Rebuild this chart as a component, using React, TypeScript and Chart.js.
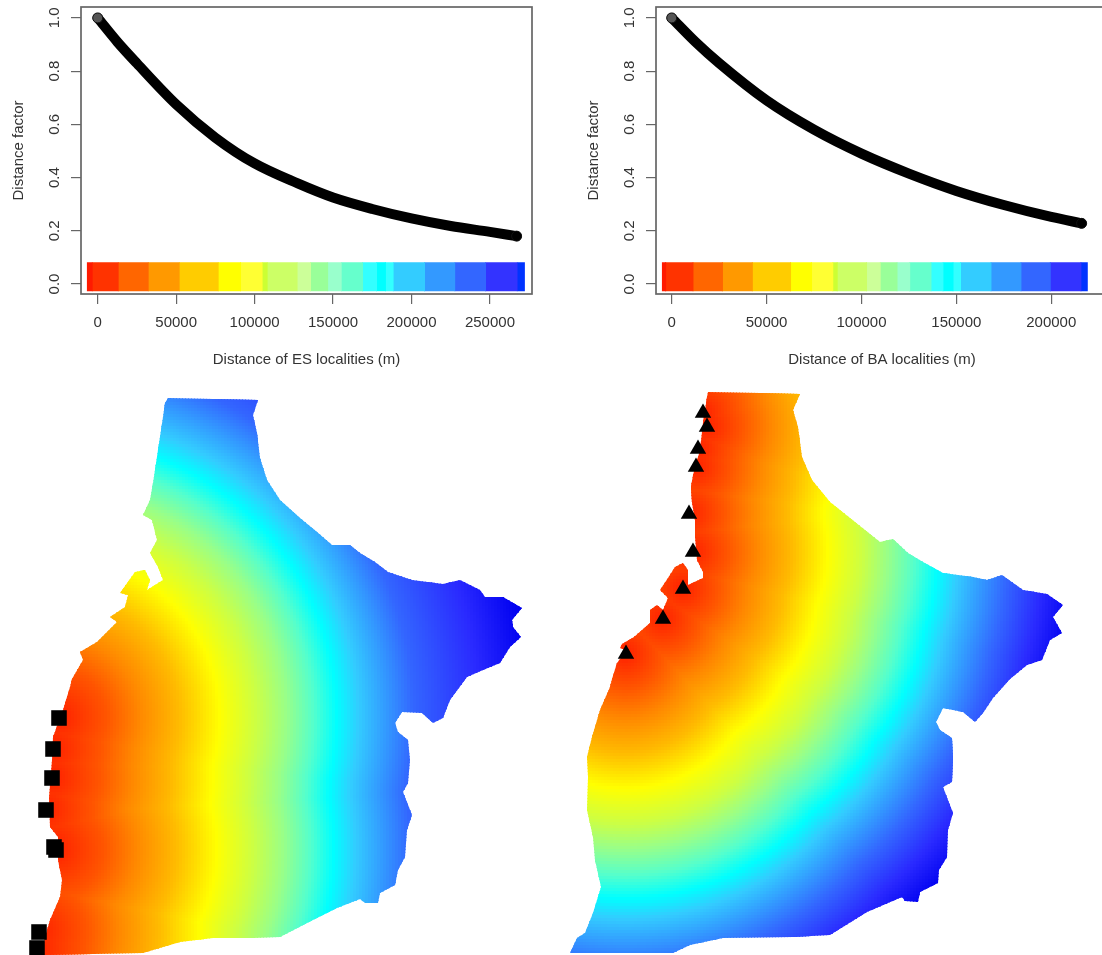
import React, { useEffect, useRef } from "react";
import { Chart, registerables } from "chart.js";

Chart.register(...registerables);

// --- distance-decay curves (distance in m, factor)
const esDistance = [0, 12500, 25000, 50000, 75000, 100000, 127500, 150000, 175000, 200000, 225000, 250000, 267000];
const esFactor = [1.0, 0.91, 0.829, 0.675, 0.55, 0.453, 0.378, 0.325, 0.282, 0.2465, 0.218, 0.196, 0.18];
const baDistance = [0, 12500, 25000, 50000, 75000, 100000, 125000, 150000, 175000, 200000, 216000];
const baFactor = [1.0, 0.91, 0.83, 0.69, 0.58, 0.49, 0.415, 0.35, 0.297, 0.252, 0.228];

// --- tick labels
const esXTicks = [0, 50000, 100000, 150000, 200000, 250000];
const baXTicks = [0, 50000, 100000, 150000, 200000];
const yTicks = [0, 0.2, 0.4, 0.6, 0.8, 1.0];

// --- colour bars
const barColors = ["#FF1A00", "#FF3300", "#FF6600", "#FF9900", "#FFCC00", "#FFFF00", "#FFFF33", "#CCFF33", "#CCFF66", "#CCFF99", "#99FF99", "#99FFCC", "#66FFCC", "#33FFFF", "#00FFFF", "#33FFFF", "#33CCFF", "#3399FF", "#3366FF", "#3333FF", "#0033FF"];
const esBarBreaks = [-7010, -3820, 12750, 31870, 51630, 76490, 90700, 104500, 107700, 126800, 135300, 146300, 154900, 168500, 177400, 183000, 188000, 208000, 227300, 246900, 267000, 272300];
const baBarBreaks = [-5260, -3510, 10880, 26320, 42100, 62280, 73330, 84560, 86840, 102300, 109500, 118400, 125100, 136300, 142600, 147900, 151800, 167900, 183700, 199100, 215300, 219300];
const barTop = 0.082;
const barBottom = -0.027;
const barSeamOverlap = 700; // m; hides antialiasing hairlines between segments, not a read value

// --- map: coast outlines and localities, in map units (simplified; the reference edge is rougher)
const esCoast = [[168,398],[258,400],[253,415],[257,433],[260,458],[267,480],[280,500],[300,518],[317,532],[332,545],[350,545],[360,553],[375,562],[388,572],[412,580],[443,584],[460,580],[480,590],[485,597],[503,597],[522,608],[512,620],[513,627],[521,637],[510,647],[500,663],[483,670],[467,677],[450,700],[443,718],[433,723],[422,713],[402,712],[395,723],[398,732],[408,740],[410,760],[408,783],[403,792],[412,815],[407,830],[405,857],[398,870],[395,885],[380,893],[378,903],[365,903],[360,899],[337,908],[313,920],[280,937],[253,938],[213,938],[180,942],[143,953],[43,955],[45,937],[50,920],[60,897],[62,880],[58,860],[58,837],[50,827],[49,798],[52,760],[53,737],[63,710],[70,687],[72,679],[83,660],[80,652],[97,642],[117,622],[110,617],[125,607],[128,595],[120,593],[135,572],[145,570],[150,580],[147,590],[163,580],[158,567],[150,553],[157,540],[152,520],[143,515],[150,500],[153,483],[158,450],[163,417],[165,403]];
const baCoast = [[708,392],[760,393],[800,394],[793,410],[798,427],[802,457],[812,480],[830,502],[850,518],[880,542],[893,539],[908,553],[923,562],[943,573],[973,577],[987,580],[1002,575],[1023,590],[1047,594],[1063,605],[1053,617],[1062,633],[1050,640],[1042,660],[1027,665],[1010,679],[993,698],[983,713],[975,722],[963,712],[943,708],[936,722],[940,730],[952,738],[953,758],[952,782],[943,787],[953,813],[948,830],[947,857],[939,870],[938,883],[920,892],[918,902],[905,901],[902,897],[867,912],[830,935],[793,937],[723,938],[690,945],[673,953],[570,953],[577,938],[585,933],[593,913],[601,887],[595,860],[593,837],[587,810],[588,777],[587,757],[592,737],[600,710],[610,687],[612,679],[617,663],[627,650],[620,648],[622,644],[634,637],[650,623],[650,610],[657,605],[663,610],[668,598],[660,590],[668,578],[675,567],[683,563],[688,570],[688,585],[703,578],[703,572],[697,560],[695,537],[695,520],[692,503],[691,487],[693,475],[700,450],[703,423],[707,397]];
const esLocalities = [[59,718],[53,749],[52,778],[46,810],[54,847],[56,850],[39,932],[37,948]];
const baLocalities = [[703,413],[707,427],[698,449],[696,467],[689,514],[693,552],[683,589],[663,619],[626,654]];

// --- colour against distance from the nearest locality (map units); colour stops
const heatColors = ["#FF2000", "#FF5500", "#FF8800", "#FFBB00", "#FFFF00", "#CCFF44", "#99FF88", "#55FFCC", "#00FFFF", "#33CCFF", "#3399FF", "#3366FF", "#2A2AFF", "#0000F0"];
const esHeatDistance = [0, 48, 81, 121, 161, 198, 228, 255, 278, 300, 328, 355, 420, 473];
const baHeatDistance = [0, 35, 65, 100, 135, 170, 195, 222, 245, 265, 290, 315, 350, 385];

const FONT = "'Liberation Sans', Arial, sans-serif";
const INK = "#333";
const AXIS = "#666";

const boxPlugin = {
  id: "box",
  afterDraw(chart: any) {
    const { ctx, chartArea: a } = chart;
    ctx.save();
    ctx.strokeStyle = AXIS;
    ctx.lineWidth = 1.7;
    ctx.strokeRect(a.left, a.top, a.right - a.left, a.bottom - a.top);
    ctx.restore();
  },
};

function clipPlugin(coast: number[][], datasetIndex: number) {
  return {
    id: "coastClip",
    beforeDatasetDraw(chart: any, args: any) {
      if (args.index !== datasetIndex) return;
      const { ctx, scales } = chart;
      ctx.save();
      ctx.beginPath();
      coast.forEach(([x, y], i) => {
        const px = scales.x.getPixelForValue(x);
        const py = scales.y.getPixelForValue(y);
        if (i === 0) ctx.moveTo(px, py);
        else ctx.lineTo(px, py);
      });
      ctx.closePath();
      ctx.clip();
    },
    afterDatasetDraw(chart: any, args: any) {
      if (args.index === datasetIndex) chart.ctx.restore();
    },
  };
}

function hexRgb(h: string) {
  return [parseInt(h.slice(1, 3), 16), parseInt(h.slice(3, 5), 16), parseInt(h.slice(5, 7), 16)];
}

function heatColor(d: number, dists: number[]) {
  let i = 0;
  while (i < dists.length - 2 && d > dists[i + 1]) i++;
  const t = Math.max(0, Math.min(1, (d - dists[i]) / (dists[i + 1] - dists[i])));
  const a = hexRgb(heatColors[i]);
  const b = hexRgb(heatColors[i + 1]);
  return `rgb(${a.map((v, k) => Math.round(v + (b[k] - v) * t)).join(",")})`;
}

function zeroPadding(s: any) {
  s.paddingTop = 0;
  s.paddingBottom = 0;
  s.paddingLeft = 0;
  s.paddingRight = 0;
}

function curveConfig(opts: any) {
  const { distance, factor, breaks, title, xMin, xMax, paddingRight, xTicks } = opts;
  const points = distance.map((x: number, i: number) => ({ x, y: factor[i] }));
  const last = points.length - 1;
  const bars = barColors.map((c, i) => ({
    type: "line",
    data: [
      { x: breaks[i], y: barTop },
      { x: breaks[i + 1] + (i < barColors.length - 1 ? barSeamOverlap : 0), y: barTop },
    ],
    borderWidth: 0,
    pointRadius: 0,
    backgroundColor: c,
    fill: { value: barBottom },
  }));
  return {
    type: "line",
    data: {
      datasets: [
        {
          data: points,
          borderColor: "#000",
          borderWidth: 10,
          borderCapStyle: "round",
          cubicInterpolationMode: "monotone",
          fill: false,
          pointRadius: (c: any) => (c.dataIndex === 0 || c.dataIndex === last ? 5 : 0),
          pointBackgroundColor: (c: any) => (c.dataIndex === 0 ? "#555" : "#000"),
          pointBorderColor: "#111",
          pointBorderWidth: 1,
        },
        ...bars,
      ],
    },
    options: {
      responsive: false,
      animation: false,
      events: [],
      layout: { autoPadding: false, padding: { left: 0, top: 7, right: paddingRight, bottom: 0 } },
      plugins: { legend: { display: false }, tooltip: { enabled: false }, title: { display: false } },
      scales: {
        x: {
          type: "linear",
          min: xMin,
          max: xMax,
          afterBuildTicks: (s: any) => {
            s.ticks = xTicks.map((value: number) => ({ value }));
          },
          afterFit: (s: any) => {
            s.height = 91;
            zeroPadding(s);
          },
          border: { display: false },
          grid: { drawOnChartArea: false, drawTicks: true, tickLength: 10, color: AXIS, lineWidth: 1.2 },
          ticks: {
            autoSkip: false,
            maxRotation: 0,
            minRotation: 0,
            padding: 10,
            color: INK,
            font: { family: FONT, size: 15 },
            callback: (v: number) => String(v),
          },
          title: {
            display: true,
            text: title,
            color: INK,
            font: { family: FONT, size: 15 },
            padding: { top: 0, bottom: 16 },
          },
        },
        y: {
          min: -0.0375,
          max: 1.041,
          afterBuildTicks: (s: any) => {
            s.ticks = yTicks.map((value: number) => ({ value }));
          },
          afterFit: (s: any) => {
            s.width = 81;
            zeroPadding(s);
          },
          border: { display: false },
          grid: { drawOnChartArea: false, drawTicks: true, tickLength: 10, color: AXIS, lineWidth: 1.2 },
          ticks: {
            autoSkip: false,
            minRotation: 90,
            maxRotation: 90,
            crossAlign: "center",
            padding: 5.6,
            color: INK,
            font: { family: FONT, size: 15 },
            callback: (v: number) => Number(v).toFixed(1),
          },
          title: {
            display: true,
            text: "Distance factor",
            color: INK,
            font: { family: FONT, size: 15 },
            padding: { top: 9.5, bottom: 0 },
          },
        },
      },
    },
    plugins: [boxPlugin],
  };
}

// NOTE: the map cells are NOT values. Their positions are a
// generated 3-unit grid, and each colour is computed from the distance to the nearest traced
// locality through the estimated colour stops above. This reconstructs the reference's field
// (which appears to be such a distance field), so it is an approximation by formula.
function mapConfig(opts: any) {
  const { coast, localities, heatDistance, xMin, xMax, markerStyle, markerRadius } = opts;
  const cellSize = 3;
  const cells: { x: number; y: number }[] = [];
  const colors: string[] = [];
  const xs = coast.map((p: number[]) => p[0]);
  const ys = coast.map((p: number[]) => p[1]);
  for (let gx = Math.min(...xs); gx <= Math.max(...xs) + cellSize; gx += cellSize) {
    for (let gy = Math.min(...ys); gy <= Math.max(...ys) + cellSize; gy += cellSize) {
      let best = Infinity;
      for (const [lx, ly] of localities) best = Math.min(best, Math.hypot(gx - lx, gy - ly));
      cells.push({ x: gx, y: gy });
      colors.push(heatColor(best, heatDistance));
    }
  }
  return {
    type: "scatter",
    data: {
      datasets: [
        {
          data: localities.map(([x, y]: number[]) => ({ x, y })),
          pointStyle: markerStyle,
          pointRadius: markerRadius,
          pointBackgroundColor: "#000",
          pointBorderColor: "#000",
          pointBorderWidth: 0,
        },
        {
          data: cells,
          pointStyle: "rect",
          pointRadius: 2.8284,
          pointBackgroundColor: colors,
          pointBorderWidth: 0,
        },
      ],
    },
    options: {
      responsive: false,
      animation: false,
      events: [],
      layout: { autoPadding: false, padding: 0 },
      plugins: { legend: { display: false }, tooltip: { enabled: false } },
      scales: {
        x: { type: "linear", display: false, min: xMin, max: xMax },
        y: { type: "linear", display: false, min: 390, max: 955, reverse: true },
      },
    },
    plugins: [clipPlugin(coast, 1)],
  };
}

function Panel({ left, top, width, height, config }: any) {
  const ref = useRef<HTMLCanvasElement | null>(null);
  useEffect(() => {
    const chart = new Chart(ref.current as HTMLCanvasElement, config());
    return () => chart.destroy();
  }, []);
  return (
    <canvas
      ref={ref}
      width={width}
      height={height}
      style={{ position: "absolute", left, top, width, height, filter: "blur(0.4px)" }}
    />
  );
}

export default function App() {
  return (
    <div style={{ position: "absolute", left: 0, top: 0, width: 1102, height: 955, overflow: "hidden", background: "#fff" }}>
      <Panel
        left={0}
        top={0}
        width={560}
        height={385}
        config={() =>
          curveConfig({
            distance: esDistance,
            factor: esFactor,
            breaks: esBarBreaks,
            title: "Distance of ES localities (m)",
            xMin: -10640,
            xMax: 276800,
            paddingRight: 28,
            xTicks: esXTicks,
          })
        }
      />
      <Panel
        left={575}
        top={0}
        width={560}
        height={385}
        config={() =>
          curveConfig({
            distance: baDistance,
            factor: baFactor,
            breaks: baBarBreaks,
            title: "Distance of BA localities (m)",
            xMin: -8270,
            xMax: 229900,
            paddingRight: 27,
            xTicks: baXTicks,
          })
        }
      />
      <Panel
        left={0}
        top={390}
        width={551}
        height={565}
        config={() =>
          mapConfig({
            coast: esCoast,
            localities: esLocalities,
            heatDistance: esHeatDistance,
            xMin: 0,
            xMax: 551,
            markerStyle: "rect",
            markerRadius: 11,
          })
        }
      />
      <Panel
        left={551}
        top={390}
        width={551}
        height={565}
        config={() =>
          mapConfig({
            coast: baCoast,
            localities: baLocalities,
            heatDistance: baHeatDistance,
            xMin: 551,
            xMax: 1102,
            markerStyle: "triangle",
            markerRadius: 9.5,
          })
        }
      />
    </div>
  );
}
